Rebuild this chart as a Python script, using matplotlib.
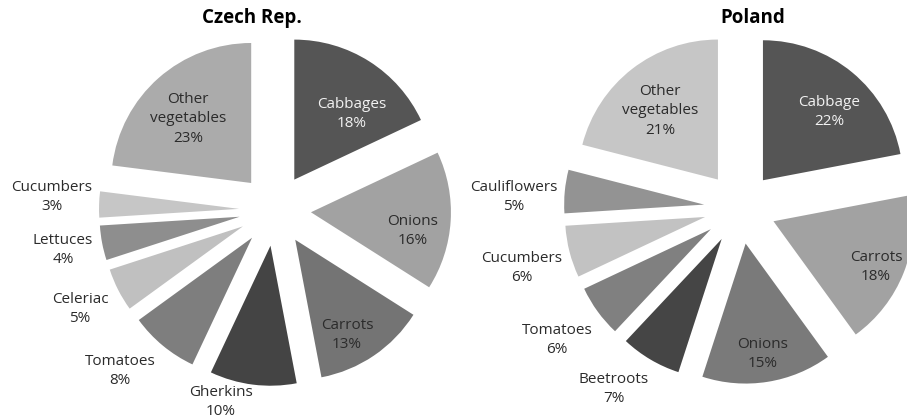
import matplotlib
matplotlib.use("Agg")
import matplotlib.pyplot as plt

# Vegetable production shares (%)
cz_labels = ["Cabbages", "Onions", "Carrots", "Gherkins", "Tomatoes",
             "Celeriac", "Lettuces", "Cucumbers", "Other\nvegetables"]
cz_values = [18, 16, 13, 10, 8, 5, 4, 3, 23]

pl_labels = ["Cabbage", "Carrots", "Onions", "Beetroots", "Tomatoes",
             "Cucumbers", "Cauliflowers", "Other\nvegetables"]
pl_values = [22, 18, 15, 7, 6, 6, 5, 21]

# Styling
cz_colors = ["#555555", "#a2a2a2", "#747474", "#444444", "#7e7e7e",
             "#c0c0c0", "#8e8e8e", "#c6c6c6", "#ababab"]
pl_colors = ["#555555", "#a2a2a2", "#7a7a7a", "#454545", "#808080",
             "#c2c2c2", "#939393", "#c6c6c6"]
cz_text_colors = ["#f2f2f2"] + ["#2b2b2b"] * 8
pl_text_colors = ["#f2f2f2"] + ["#2b2b2b"] * 7

# Label centres in pixel coordinates (x, y from top)
cz_label_pos = [(352, 114), (413, 231), (347, 335), (221, 402), (120, 371),
                (80, 309), (63, 250), (52, 197), (188, 119)]
pl_label_pos = [(829, 112), (876, 267), (763, 354), (614, 389), (557, 340),
                (522, 268), (514, 197), (660, 111)]

W, H = 907, 420
fig = plt.figure(figsize=(W / 100, H / 100), dpi=100)
ax = fig.add_axes([0, 0, 1, 1])

FONT = ["Open Sans", "DejaVu Sans"]
RADIUS = 140
EXPLODE = 36  # offset of each slice from the centre, in data units


def draw_pie(values, labels, colors, text_colors, positions, center, title, title_x):
    cx, cy = center
    ax.pie(values, colors=colors, startangle=90, counterclock=False,
           explode=[EXPLODE] * len(values), radius=RADIUS,
           center=(cx, H - cy), wedgeprops=dict(linewidth=0))
    total = sum(values)
    for lab, v, tc, (px, py) in zip(labels, values, text_colors, positions):
        ax.text(px, H - py, f"{lab}\n{round(100 * v / total)}%",
                ha="center", va="center", fontsize=11, color=tc,
                family=FONT, linespacing=1.4, zorder=5)
    ax.text(title_x, H - 18, title, ha="center", va="center",
            fontsize=13.5, fontweight="bold", color="black", family=FONT)


draw_pie(cz_values, cz_labels, cz_colors, cz_text_colors, cz_label_pos,
         (275, 210), "Czech Rep.", 252)
draw_pie(pl_values, pl_labels, pl_colors, pl_text_colors, pl_label_pos,
         (740, 208), "Poland", 753)

ax.set_xlim(0, W)
ax.set_ylim(0, H)
ax.set_aspect("equal")
ax.axis("off")

fig.savefig("out.png", dpi=100, facecolor="white")
